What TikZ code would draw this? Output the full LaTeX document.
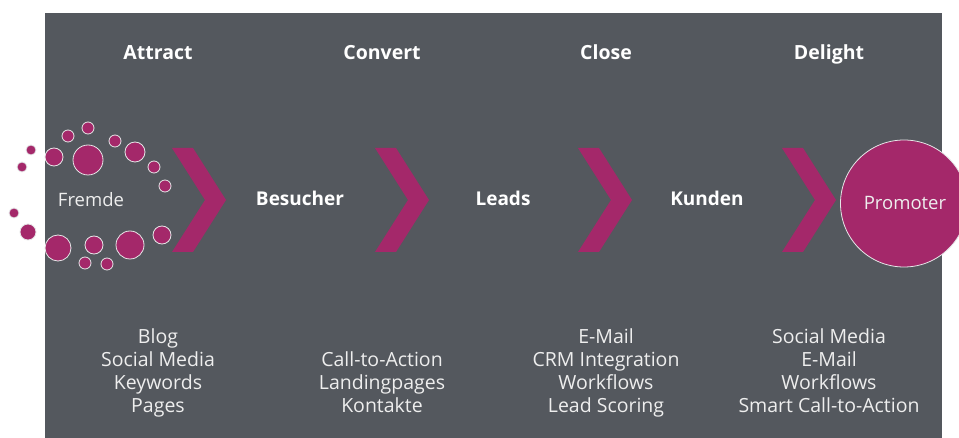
\documentclass[tikz,border=0pt]{standalone}
\usepackage{fontspec}
\setmainfont{Open Sans}
\usetikzlibrary{positioning}
\definecolor{myGray}{RGB}{84,88,94}
\definecolor{myMagenta}{RGB}{164,40,106}
\definecolor{myText}{RGB}{238,238,238}

\tikzset{
  phase/.style={text=white,anchor=base,font=\fontsize{19.5}{23}\selectfont\bfseries},
  stage/.style={text=white,anchor=base,font=\fontsize{19}{23}\selectfont\bfseries},
  plain/.style={text=myText,anchor=base,font=\fontsize{18.5}{23}\selectfont},
  tools/.style={text=myText,align=center,anchor=base,font=\fontsize{19.5}{23}\selectfont},
  bubble/.style={circle,fill=myMagenta,draw=white!85!myGray,line width=0.8pt,inner sep=0pt},
  arrowhead/.style={fill=myMagenta}
}

\begin{document}
\begin{tikzpicture}[x=1pt,y=-1pt]
    \useasboundingbox (0,0) rectangle (959,438);
    \fill[white] (0,0) rectangle (959,438);
    \fill[myGray] (45,13.5) rectangle (942,438);

    % chevrons between the stages
    \foreach \dx in {0,203,406,610}
        \fill[arrowhead,shift={(\dx,0)}] (172,148) -- (193,148) -- (226,200) -- (193,252) -- (172,252) -- (205,200) -- cycle;

    % cloud of small circles around Fremde
    \foreach \cx/\cy/\r in {88/128/6, 68/136/6, 115/141/6, 31/150/5, 54/157/9, 88/160/15,
                            135/152/10, 22/167/5, 154/167/6, 165/186/6, 14/213/5, 28/232/8,
                            58/248/13, 94/245/9, 130/245/14, 162/235/9, 85/263/6, 107/264/6}
        \node[bubble,minimum size=2*\r pt] at (\cx,\cy) {};

    \node[bubble,minimum size=127pt] (promoter) at (904,203.5) {};

    % phases
    \node[phase] (attract) at (158,60) {Attract};
    \node[phase] (convert) at (382,60) {Convert};
    \node[phase] (close) at (606,60) {Close};
    \node[phase] (delight) at (829,60) {Delight};

    % stages
    \node[plain] (fremde) at (91,207) {Fremde};
    \node[stage] (besucher) at (300,206) {Besucher};
    \node[stage] (leads) at (503,206) {Leads};
    \node[stage] (kunden) at (707,206) {Kunden};
    \node[plain] (promotertext) at (905,210) {Promoter};

    % tools per phase (base = last line)
    \node[tools] (tattract) at (158,412) {Blog\\Social Media\\Keywords\\Pages};
    \node[tools] (tconvert) at (382,412) {Call-to-Action\\Landingpages\\Kontakte};
    \node[tools] (tclose) at (606,412) {E-Mail\\CRM Integration\\Workflows\\Lead Scoring};
    \node[tools] (tdelight) at (829,412) {Social Media\\E-Mail\\Workflows\\Smart Call-to-Action};
\end{tikzpicture}
\end{document}
